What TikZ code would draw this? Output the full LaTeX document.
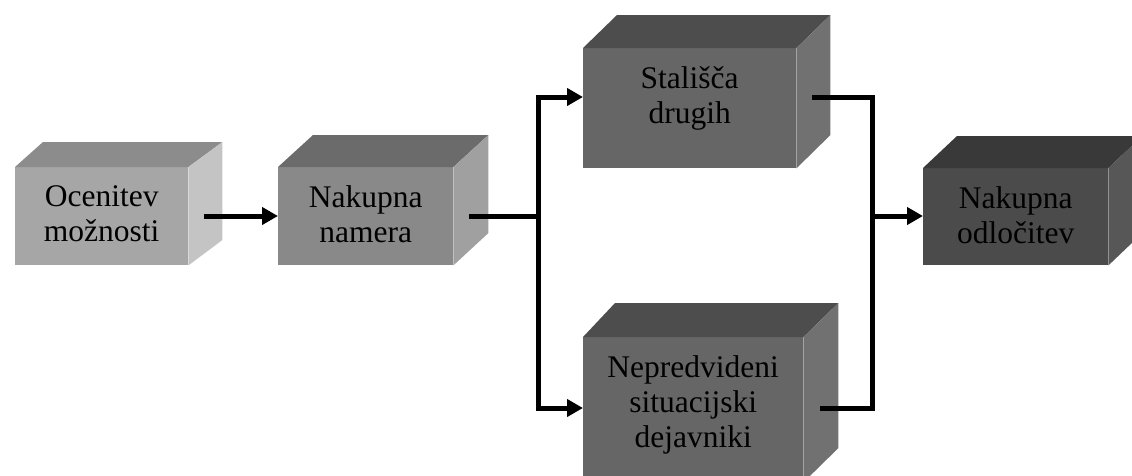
\documentclass[tikz,border=0pt]{standalone}
\usepackage{fontspec}
\setmainfont{Liberation Serif}
\usetikzlibrary{arrows.meta}
\definecolor{fa}{HTML}{A6A6A6}\definecolor{ta}{HTML}{8C8C8C}\definecolor{sa}{HTML}{C4C4C4}
\definecolor{fb}{HTML}{898989}\definecolor{tb}{HTML}{6B6B6B}\definecolor{sb}{HTML}{A0A0A0}
\definecolor{fc}{HTML}{666666}\definecolor{tc}{HTML}{4D4D4D}\definecolor{sc}{HTML}{717171}
\definecolor{fd}{HTML}{4B4B4B}\definecolor{td}{HTML}{393939}\definecolor{sd}{HTML}{575757}
\newcommand\mybox[9]{%
  \node[face,fill=#6,minimum width=#4pt,minimum height=#5pt] (#1) at (#2,#3) {};
  \fill[#7] (#1.north west) -- ++(\dxl,-\dyy) -- ([xshift=\dxr pt,yshift=\dyy pt]#1.north east) -- (#1.north east) -- cycle;
  \fill[#8] (#1.north east) -- ++(\dxr,-\dyy) -- ++(0,#5) -- (#1.south east) -- cycle;
  \node[lbl] (#1t) at ([yshift=-18.5pt]#1.north) {#9};
}
\begin{document}
\begin{tikzpicture}[x=1pt,y=-1pt,
  face/.style={draw=none,inner sep=0pt,anchor=north west},
  lbl/.style={anchor=north,inner sep=0pt,align=center,font=\fontsize{31.5}{35}\selectfont},
  conn/.style={line width=5pt,black},
  arr/.style={conn,-{Triangle[length=16pt,width=17pt]}}
]
\useasboundingbox (0,0) rectangle (1132,475);
\clip (0,0) rectangle (1132,475);

\def\dxl{28}\def\dxr{34}\def\dyy{25}
\mybox{b1}{15}{167}{173}{98}{fa}{ta}{sa}{Ocenitev\\možnosti}
\def\dxl{35}\def\dxr{35}\def\dyy{32}
\mybox{b2}{278}{167}{175}{98}{fb}{tb}{sb}{Nakupna\\namera}
\def\dxl{34}\def\dxr{34}\def\dyy{33}
\mybox{b3}{583}{48}{213}{120}{fc}{tc}{sc}{Stališča\\drugih}
\def\dxl{32}\def\dxr{35}\def\dyy{34}
\mybox{b4}{583}{337}{220}{145}{fc}{tc}{sc}{Nepredvideni\\situacijski\\dejavniki}
\def\dxl{34}\def\dxr{34}\def\dyy{32}
\mybox{b5}{923}{168}{185}{97}{fd}{td}{sd}{Nakupna\\odločitev}

\coordinate (o1) at (204,216);
\draw[arr] (o1) -- (o1 -| b2.west);
\coordinate (o2) at (469,216);
\coordinate (s) at (538,216);
\coordinate (su) at (538,97);
\coordinate (sd) at (538,408);
\draw[conn] (o2) -- (s);
\draw[arr] (s) |- (su -| b3.west);
\draw[arr] (s) |- (sd -| b4.west);
\coordinate (r3) at (812,97);
\coordinate (r4) at (820,408);
\coordinate (m) at (872,216);
\draw[conn] (r3) -| (m) |- (r4);
\draw[arr] (m) -- (m -| b5.west);
\end{tikzpicture}
\end{document}
